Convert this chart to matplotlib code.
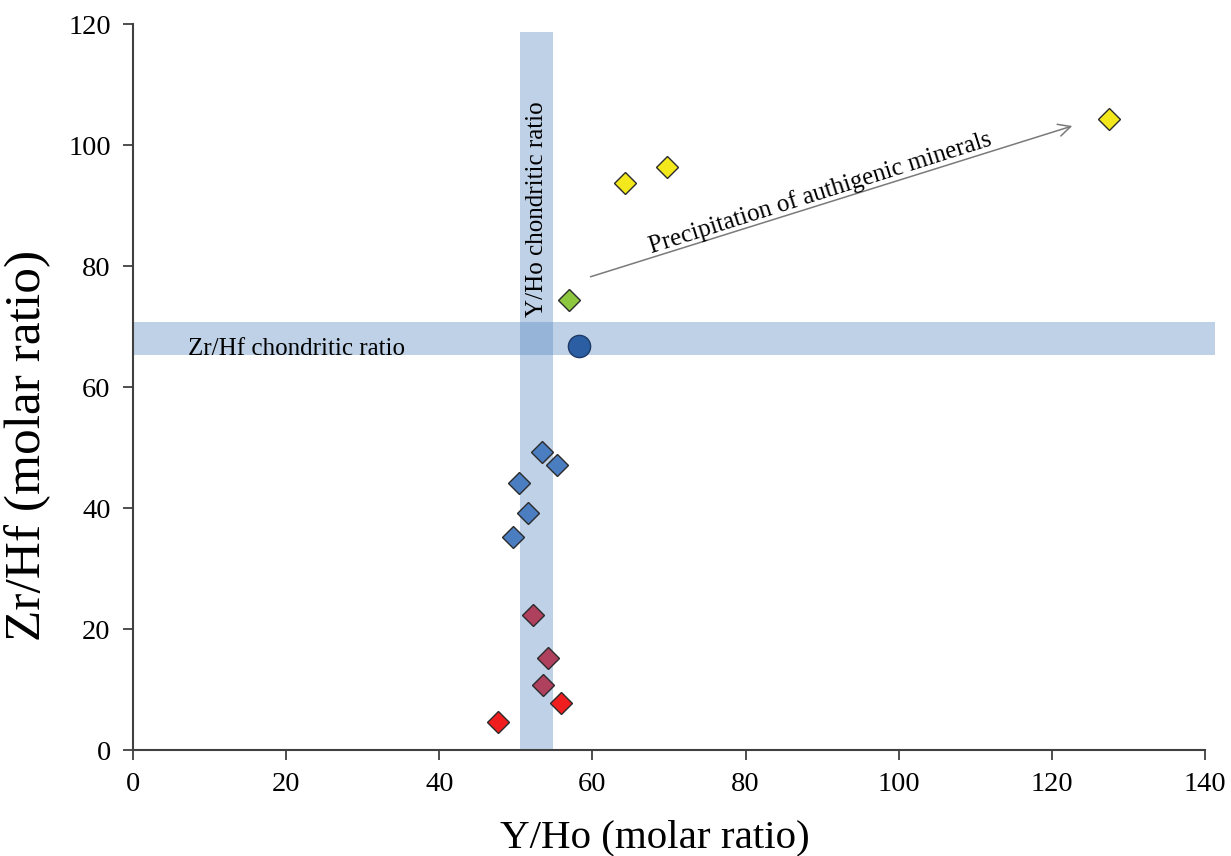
import numpy as np
import matplotlib
matplotlib.use("Agg")
import matplotlib.pyplot as plt

plt.rcParams['font.family'] = ['Liberation Serif', 'DejaVu Serif']

# data (Y/Ho, Zr/Hf)
blue_x = [53.4, 55.4, 50.4, 51.6, 49.6]
blue_y = [49.3, 47.1, 44.1, 39.2, 35.2]
mauve_x = [52.3, 54.2, 53.6]
mauve_y = [22.3, 15.2, 10.7]
red_x = [55.9, 47.7]
red_y = [7.8, 4.7]
green_x = [56.9]
green_y = [74.4]
circle_x = [58.3]
circle_y = [66.8]
yellow_x = [64.3, 69.7, 127.5]
yellow_y = [93.8, 96.4, 104.3]

# chondritic ranges
yho_band = (50.5, 54.8)
zrhf_band = (65.3, 70.7)

xticks = [0, 20, 40, 60, 80, 100, 120, 140]
yticks = [0, 20, 40, 60, 80, 100, 120]

fig = plt.figure(figsize=(12.31, 8.56), dpi=100)
ax = fig.add_axes([0.108, 0.1238, 0.871, 0.848])

band_col = '#4F81BD'
ax.fill_betweenx([0, 118.7], yho_band[0], yho_band[1], color=band_col, alpha=0.36, lw=0, zorder=1)
ax.fill_between([0, 141.3], zrhf_band[0], zrhf_band[1], color=band_col, alpha=0.36, lw=0,
                zorder=1, clip_on=False)

mk = dict(marker='D', ms=11.5, ls='none', mec='#2b2b2b', mew=1.0, zorder=3)
ax.plot(blue_x, blue_y, mfc='#4A7EC0', **mk)
ax.plot(mauve_x, mauve_y, mfc='#B0415E', **mk)
ax.plot(red_x, red_y, mfc='#F01E1E', **mk)
ax.plot(green_x, green_y, mfc='#8DC63F', **mk)
ax.plot(yellow_x, yellow_y, mfc='#F2E81C', **mk)
ax.plot(circle_x, circle_y, marker='o', ms=16, ls='none', mfc='#2C5EA3', mec='#1d3a66',
        mew=1.0, zorder=3)

# annotations
ax.text(21.3, 66.3, 'Zr/Hf chondritic ratio', fontsize=18, ha='center', va='center', zorder=4)
ax.text(52.7, 89.4, 'Y/Ho chondritic ratio', fontsize=18, ha='center', va='center',
        rotation=90, zorder=4)
ax.annotate('', xy=(123.0, 103.3), xytext=(59.4, 78.1),
            arrowprops=dict(arrowstyle='->', color='#7a7a7a', lw=1.1,
                            mutation_scale=22), zorder=4)
ax.text(89.7, 92.1, 'Precipitation of authigenic minerals', fontsize=18, ha='center',
        va='center', rotation=17.6, rotation_mode='anchor', zorder=4)

ax.set_xlim(0, 140)
ax.set_ylim(0, 120)
ax.set_xticks(xticks)
ax.set_yticks(yticks)
for s in ['top', 'right']:
    ax.spines[s].set_visible(False)
for s in ['left', 'bottom']:
    ax.spines[s].set_color('#404040')
    ax.spines[s].set_linewidth(1.5)
ax.tick_params(axis='both', direction='out', length=7, width=1.3, color='#404040',
               labelsize=20.5)
ax.tick_params(axis='x', pad=9)
ax.tick_params(axis='y', pad=9)

ax.set_xlabel('Y/Ho (molar ratio)', fontsize=29.5, va='center')
ax.xaxis.set_label_coords(0.487, -0.121)
ax.set_ylabel('Zr/Hf (molar ratio)', fontsize=37, va='center')
ax.yaxis.set_label_coords(-0.098, 0.419)

fig.savefig('out.png', dpi=100)
